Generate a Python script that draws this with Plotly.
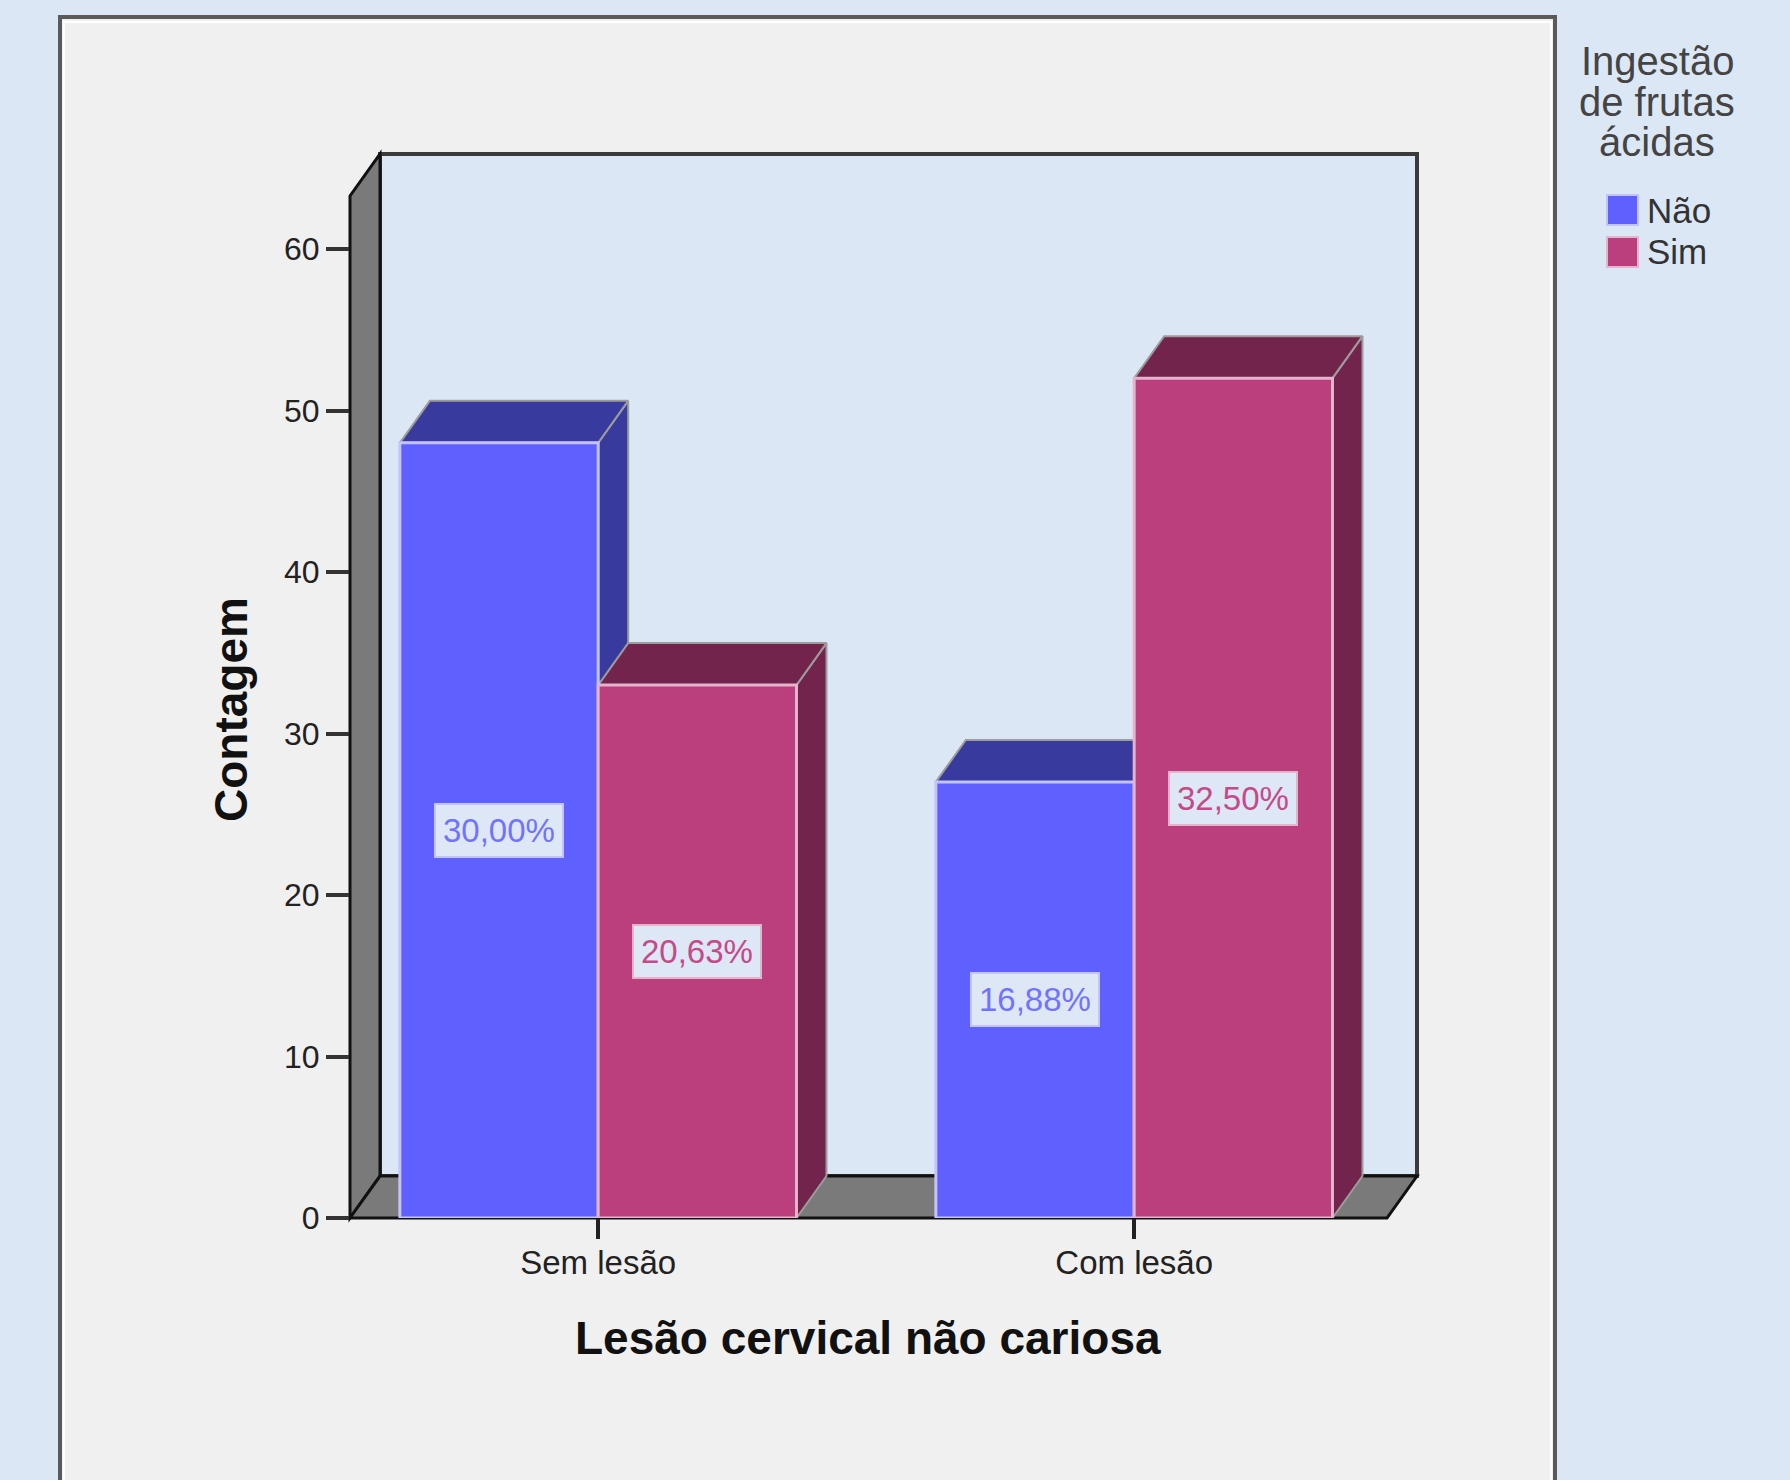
import plotly.graph_objects as go

# Data: counts of patients by lesion status and acidic-fruit intake
categories = ["Sem lesão", "Com lesão"]
series_names = ["Não", "Sim"]
counts_nao = [48, 27]
counts_sim = [33, 52]
pct_nao = ["30,00%", "16,88%"]
pct_sim = ["20,63%", "32,50%"]
y_ticks = [0, 10, 20, 30, 40, 50, 60]

# Colours: front face, top/side face, outline, label text
front_colors = ["#5E60FF", "#BA3F7C"]
shade_colors = ["#383A9E", "#72244D"]
edge_colors = ["#C3C4FF", "#E6B3CD"]
label_colors = ["#7173FF", "#C44A88"]

W, H = 1790, 1480
L, R, T, B = 350, 373, 154, 262
plot_w = W - L - R
plot_h = H - T - B

px_per_cat = 536.0
px_per_unit = 16.15
x_range = [-0.463, -0.463 + plot_w / px_per_cat]
y_range = [0, plot_h / px_per_unit]
DX = 30 / px_per_cat          # depth offset (x, data units)
DY = 42 / px_per_unit         # depth offset (y, data units)
x_front_right = x_range[1] - DX
y_front_top = y_range[1] - DY
bar_w = 0.37


def pxx(px):
    return (px - L) / plot_w


def pxy(py):
    return (H - B - py) / plot_h


def dx2p(x):
    return (x - x_range[0]) / (x_range[1] - x_range[0])


def dy2p(y):
    return (y - y_range[0]) / (y_range[1] - y_range[0])


def path(points):
    return "M " + " L ".join(f"{dx2p(x):.5f},{dy2p(y):.5f}" for x, y in points) + " Z"


fig = go.Figure()

series = [counts_nao, counts_sim]
labels = [pct_nao, pct_sim]
offsets = [-bar_w / 2, bar_w / 2]

# Top and side faces (drawn behind the front faces), group by group, left to right
for i in range(len(categories)):
    for s in range(2):
        v = series[s][i]
        xl = i + offsets[s] - bar_w / 2
        xr = xl + bar_w
        side = [(xr, 0), (xr, v), (xr + DX, v + DY), (xr + DX, DY)]
        top = [(xl, v), (xl + DX, v + DY), (xr + DX, v + DY), (xr, v)]
        for poly in (side, top):
            xs = [p[0] for p in poly] + [poly[0][0]]
            ys = [p[1] for p in poly] + [poly[0][1]]
            fig.add_trace(go.Scatter(
                x=xs, y=ys, mode="lines", fill="toself",
                fillcolor=shade_colors[s],
                line=dict(color="#9C9C9C", width=2),
                hoverinfo="skip", showlegend=False,
                xaxis="x", yaxis="y",
            ))

# Front faces as bars on an overlaid subplot so they sit above the depth faces
for s in range(2):
    fig.add_trace(go.Bar(
        x=[i + offsets[s] for i in range(len(categories))],
        y=series[s],
        width=bar_w,
        name=series_names[s],
        marker=dict(color=front_colors[s], line=dict(color=edge_colors[s], width=3)),
        showlegend=False,
        xaxis="x2", yaxis="y2",
    ))

shapes = []
# Outer panel
shapes.append(dict(type="rect", xref="paper", yref="paper",
                   x0=pxx(60), x1=pxx(1555), y0=pxy(1500), y1=pxy(17),
                   fillcolor="#F0F0F0", line=dict(color="#5A5A5A", width=4), layer="below"))
shapes.append(dict(type="rect", xref="paper", yref="paper",
                   x0=pxx(64), x1=pxx(1551), y0=pxy(1500), y1=pxy(22),
                   fillcolor="rgba(0,0,0,0)", line=dict(color="#FFFFFF", width=2), layer="below"))
# Back wall
shapes.append(dict(type="rect", xref="paper", yref="paper",
                   x0=dx2p(x_range[0] + DX), x1=dx2p(x_range[1]),
                   y0=dy2p(DY), y1=dy2p(y_range[1]),
                   fillcolor="#DCE7F5", line=dict(color="#3A3A3A", width=4), layer="below"))
# Left wall
shapes.append(dict(type="path", xref="paper", yref="paper",
                   path=path([(x_range[0], 0), (x_range[0], y_front_top),
                              (x_range[0] + DX, y_range[1]), (x_range[0] + DX, DY)]),
                   fillcolor="#7A7A7A", line=dict(color="#111111", width=3), layer="below"))
# Floor
shapes.append(dict(type="path", xref="paper", yref="paper",
                   path=path([(x_range[0], 0), (x_front_right, 0),
                              (x_range[1], DY), (x_range[0] + DX, DY)]),
                   fillcolor="#7A7A7A", line=dict(color="#111111", width=3), layer="below"))

annotations = []
# Percentage labels at half bar height
for s in range(2):
    for i in range(len(categories)):
        annotations.append(dict(
            x=i + offsets[s], y=series[s][i] / 2, xref="x2", yref="y2",
            text=labels[s][i], showarrow=False,
            font=dict(family="Arial, Liberation Sans", size=33, color=label_colors[s]),
            bgcolor="#DDE7F6", bordercolor=edge_colors[s], borderwidth=2, borderpad=7,
        ))

# Axis titles
annotations.append(dict(
    x=pxx(868), y=pxy(1338), xref="paper", yref="paper",
    text="<b>Lesão cervical não cariosa</b>", showarrow=False,
    xanchor="center", yanchor="middle",
    font=dict(family="Arial, Liberation Sans", size=46, color="#111111"),
))
annotations.append(dict(
    x=pxx(231), y=pxy(710), xref="paper", yref="paper",
    text="<b>Contagem</b>", showarrow=False, textangle=-90,
    xanchor="center", yanchor="middle",
    font=dict(family="Arial, Liberation Sans", size=46, color="#111111"),
))

# Legend
for line_text, cy in zip(["Ingestão", "de frutas", "ácidas"], [61, 102, 142]):
    annotations.append(dict(
        x=pxx(1657), y=pxy(cy), xref="paper", yref="paper",
        text=line_text, showarrow=False, xanchor="center", yanchor="middle",
        font=dict(family="Arial, Liberation Sans", size=40, color="#444444"),
    ))
for s, cy in enumerate([210, 252]):
    shapes.append(dict(type="rect", xref="paper", yref="paper",
                       x0=pxx(1607), x1=pxx(1638), y0=pxy(cy + 15), y1=pxy(cy - 15),
                       fillcolor=front_colors[s], line=dict(color=edge_colors[s], width=2)))
    annotations.append(dict(
        x=pxx(1645), y=pxy(cy), xref="paper", yref="paper",
        text=series_names[s], showarrow=False, xanchor="left", yanchor="middle",
        font=dict(family="Arial, Liberation Sans", size=35, color="#333333"),
    ))

axis_common = dict(showgrid=False, zeroline=False, showline=False, fixedrange=True)

fig.update_layout(
    width=W, height=H,
    margin=dict(l=L, r=R, t=T, b=B, pad=0),
    paper_bgcolor="#DCE7F5",
    plot_bgcolor="rgba(0,0,0,0)",
    barmode="overlay",
    showlegend=False,
    shapes=shapes,
    annotations=annotations,
    xaxis=dict(range=x_range, tickvals=[0, 1], ticktext=categories,
               ticks="outside", ticklen=20, tickwidth=4, tickcolor="#222222",
               ticklabelstandoff=-5,
               tickfont=dict(family="Arial, Liberation Sans", size=33, color="#222222"),
               **axis_common),
    yaxis=dict(range=y_range, tickvals=y_ticks,
               ticks="outside", ticklen=23, tickwidth=4, tickcolor="#333333",
               tickfont=dict(family="Arial, Liberation Sans", size=32, color="#222222"),
               **axis_common),
    xaxis2=dict(range=x_range, overlaying="x", anchor="y2", visible=False, **axis_common),
    yaxis2=dict(range=y_range, overlaying="y", anchor="x2", visible=False, **axis_common),
)

fig.write_html("out.html")
